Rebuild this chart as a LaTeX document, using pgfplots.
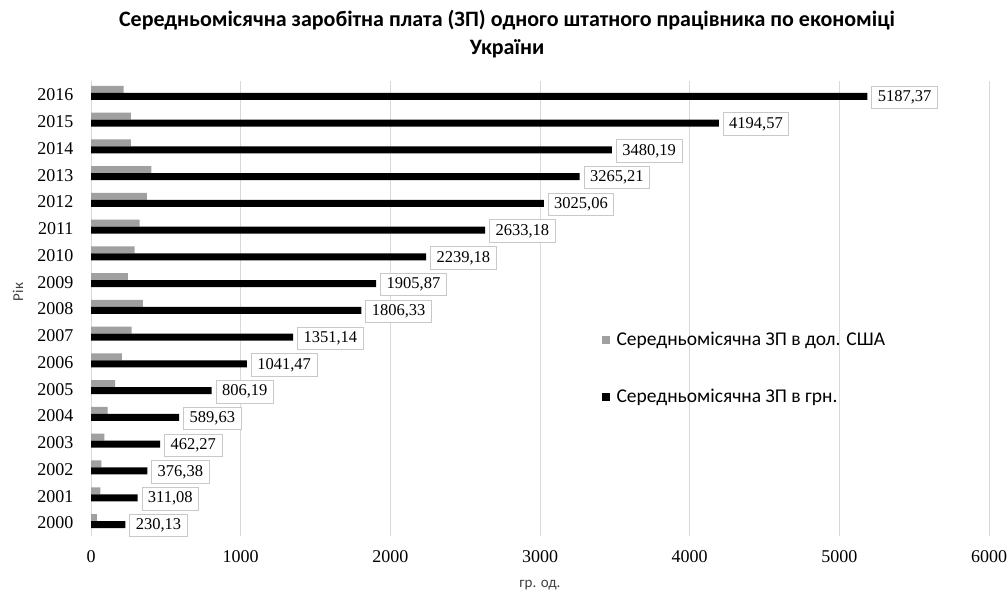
\documentclass[border=0pt]{standalone}
\usepackage{pgfplots}
\pgfplotsset{compat=1.18}
\usepackage{fontspec}
\usepackage{graphicx}
\setmainfont{Liberation Serif}
\newfontfamily\calfont{Carlito}

\definecolor{usdgray}{RGB}{160,160,160}
\definecolor{gridgray}{RGB}{217,217,217}
\definecolor{boxgray}{RGB}{200,200,200}

\begin{document}
\begin{tikzpicture}[x=1pt,y=1pt]
\useasboundingbox (0,0) rectangle (1008,597);
% title
\node[align=center,font=\calfont\bfseries\fontsize{22}{28}\selectfont] at (507,563)
  {Середньомісячна заробітна плата (ЗП) одного штатного працівника по економіці\\України};
% axis labels
\node[rotate=90,font=\calfont\fontsize{15}{15}\selectfont,text=black!75] at (18,305) {Рік};
\node[font=\calfont\fontsize{15}{15}\selectfont,text=black!75] at (540,12) {гр. од.};

\begin{axis}[
  at={(91pt,60.6pt)}, anchor=south west,
  scale only axis, width=898pt, height=455pt,
  xbar, bar width=7pt,
  xmin=0, xmax=6000, ymin=1999.5, ymax=2016.5,
  xtick={0,1000,...,6000},
  ytick={2000,...,2016},
  /pgf/number format/.cd, 1000 sep={}, assume math mode=true, /pgfplots/.cd,
  tick label style={font=\fontsize{18}{18}\selectfont},
  x tick label style={yshift=-11pt},
  y tick label style={xshift=-14pt},
  major tick length=0pt,
  axis line style={draw=none},
  xmajorgrids, major grid style={gridgray, line width=1pt},
  legend style={draw=none, fill=none, at={(rel axis cs:0.565,0.458)}, anchor=north west,
    font=\calfont\fontsize{19.5}{19.5}\selectfont, row sep=38pt,
    /tikz/every odd column/.append style={column sep=5pt}},
  legend cell align=left,
  legend image code/.code={\fill[#1] (0pt,-4pt) rectangle (8pt,4pt);},
]
% USD
\addplot[fill=usdgray, draw=none, bar shift=5.5pt] coordinates {
  (40,2000) (62,2001) (69,2002) (89,2003) (111,2004) (162,2005) (207,2006)
  (272,2007) (347,2008) (247,2009) (291,2010) (325,2011) (374,2012)
  (403,2013) (267,2014) (267,2015) (218,2016)
};
\addlegendentry{Середньомісячна ЗП в дол. США}
% UAH
\addplot[fill=black, draw=none, bar shift=-1.5pt,
  point meta=explicit symbolic,
  nodes near coords,
  every node near coord/.append style={anchor=west, xshift=4pt, yshift=-1pt, fill=white,
    draw=boxgray, line width=0.8pt, inner xsep=6pt, inner ysep=4.5pt,
    font=\fontsize{16.5}{16.5}\selectfont, text=black}
] coordinates {
  (230.13,2000) [230,13]
  (311.08,2001) [311,08]
  (376.38,2002) [376,38]
  (462.27,2003) [462,27]
  (589.63,2004) [589,63]
  (806.19,2005) [806,19]
  (1041.47,2006) [1041,47]
  (1351.14,2007) [1351,14]
  (1806.33,2008) [1806,33]
  (1905.87,2009) [1905,87]
  (2239.18,2010) [2239,18]
  (2633.18,2011) [2633,18]
  (3025.06,2012) [3025,06]
  (3265.21,2013) [3265,21]
  (3480.19,2014) [3480,19]
  (4194.57,2015) [4194,57]
  (5187.37,2016) [5187,37]
};
\addlegendentry{Середньомісячна ЗП в грн.}
\end{axis}
\end{tikzpicture}
\end{document}
